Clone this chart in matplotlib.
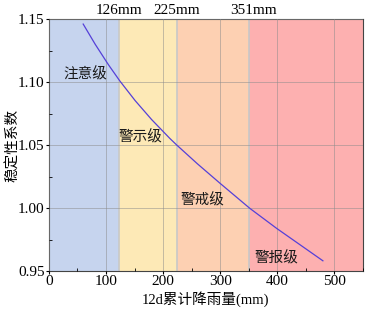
import matplotlib
matplotlib.use("Agg")
import matplotlib.pyplot as plt
from matplotlib.ticker import MultipleLocator

plt.rcParams['font.family'] = ['Liberation Serif', 'Noto Sans CJK SC']

# rainfall (mm) vs stability coefficient
rain = [60, 81, 104, 124, 151, 180, 212, 224, 260, 300, 352, 399, 440, 480]
fs = [1.146, 1.130, 1.1139, 1.101, 1.0853, 1.0702, 1.0552, 1.050, 1.0352,
      1.0196, 0.9998, 0.9839, 0.9709, 0.9582]

bounds = [0, 122, 224, 351, 550]
band_colors = ['#c6d4ee', '#fde9b6', '#fdd0b2', '#fdb0b0']
thresh_labels = ['126mm', '225mm', '351mm']
thresh_pos = [122, 224, 358]
levels = ['注意级', '警示级', '警戒级', '警报级']
level_x = [63, 161, 269, 399]
level_y = [1.106, 1.056, 1.006, 0.960]

fig = plt.figure(figsize=(3.68, 3.12), dpi=100)
ax = fig.add_axes([0.133, 0.131, 0.853, 0.808])

for i in range(4):
    ax.axvspan(bounds[i], bounds[i + 1], color=band_colors[i], lw=0, zorder=0)
for b in bounds[1:4]:
    ax.axvline(b, color='#c8c8c8', lw=1.2, zorder=1)

ax.grid(True, color='#8c8c8c', lw=0.6, alpha=0.6, zorder=1)
ax.set_axisbelow(False)
ax.plot(rain, fs, color='#5540d8', lw=0.9, zorder=3)

ax.set_xlim(0, 550)
ax.set_ylim(0.95, 1.15)
ax.xaxis.set_major_locator(MultipleLocator(100))
ax.xaxis.set_minor_locator(MultipleLocator(50))
ax.yaxis.set_major_locator(MultipleLocator(0.05))
ax.yaxis.set_minor_locator(MultipleLocator(0.025))
ax.yaxis.set_major_formatter(plt.FormatStrFormatter('%.2f'))
ax.tick_params(which='major', direction='out', length=2, labelsize=11, pad=1)
ax.tick_params(which='minor', direction='in', length=2)

for t, x in zip(thresh_labels, thresh_pos):
    ax.text(x, 1.152, t, ha='center', va='bottom', fontsize=11)
for t, x, y in zip(levels, level_x, level_y):
    ax.text(x, y, t, ha='center', va='center', fontsize=10.5, color='#1a1a1a')

for s in ax.spines.values():
    s.set_color('#444444')

ax.set_xlabel('12d累计降雨量(mm)', fontsize=10.5, labelpad=2)
ax.set_ylabel('稳定性系数', fontsize=10.5, va='center')
ax.yaxis.set_label_coords(-0.115, 0.5)

fig.savefig('out.png', dpi=100)
